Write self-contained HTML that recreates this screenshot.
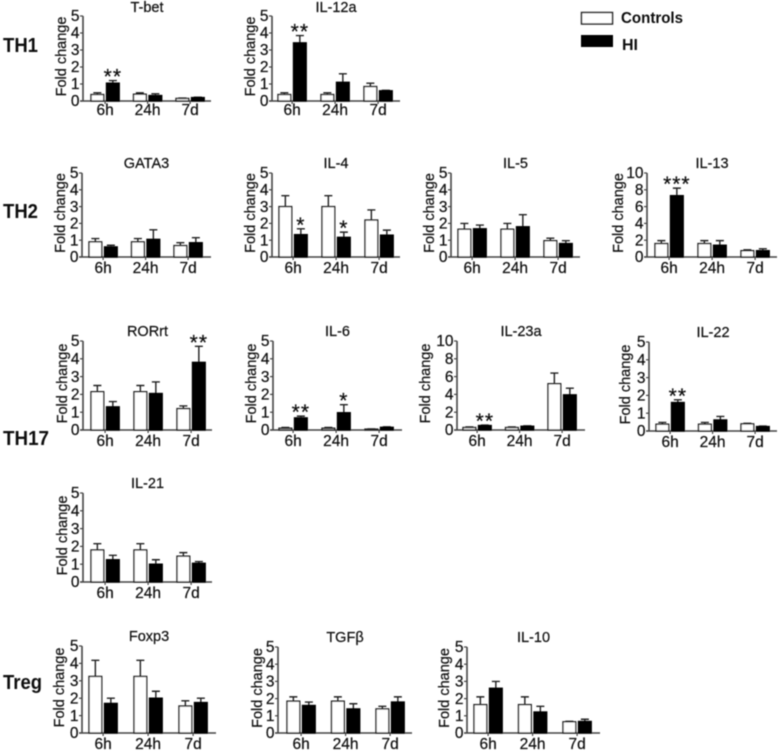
<!DOCTYPE html>
<html lang="en">
<head>
<meta charset="utf-8">
<title>Fold change of T-helper markers</title>
<style>
html,body{margin:0;padding:0;background:#fff}
svg{display:block}
text{font-family:"Liberation Sans",sans-serif;fill:#111;stroke:#111;stroke-width:.22}
.lbl{font-weight:700;fill:#111;stroke:none}
</style>
</head>
<body>
<svg id="chart" width="778" height="751" viewBox="0 0 778 751" xmlns="http://www.w3.org/2000/svg">
<defs><filter id="soft" x="-2%" y="-2%" width="104%" height="104%"><feGaussianBlur stdDeviation="0.4"/></filter></defs>
<rect width="778" height="751" fill="#fff"/>
<g id="root" filter="url(#soft)">
  <text class="lbl" x="3" y="52" font-size="20" textLength="35" lengthAdjust="spacingAndGlyphs">TH1</text>
  <text class="lbl" x="3" y="218" font-size="20" textLength="35" lengthAdjust="spacingAndGlyphs">TH2</text>
  <text class="lbl" x="3" y="445" font-size="20" textLength="46" lengthAdjust="spacingAndGlyphs">TH17</text>
  <text class="lbl" x="3" y="689" font-size="20" textLength="39" lengthAdjust="spacingAndGlyphs">Treg</text>
  <g>
    <rect x="581.5" y="12.5" width="31" height="11.5" fill="#fff" stroke="#222" stroke-width="1.5"/>
    <text class="lbl" x="621" y="23" font-size="16" textLength="62" lengthAdjust="spacingAndGlyphs">Controls</text>
    <rect x="581" y="35" width="32" height="12" fill="#000"/>
    <text class="lbl" x="622" y="50" font-size="16">HI</text>
  </g>
</g>
</svg>
<script>
const categories = ["6h", "24h", "7d"];
const ticks5 = [0, 1, 2, 3, 4, 5];
const ticks10 = [0, 2, 4, 6, 8, 10];

const tbetControls = [0.38, 0.40, 0.15];
const tbetControlsTop = [0.48, 0.48, 0.17];
const tbetHI = [1.05, 0.32, 0.20];
const tbetHITop = [1.20, 0.42, 0.22];

const il12aControls = [0.38, 0.38, 0.85];
const il12aControlsTop = [0.48, 0.48, 1.05];
const il12aHI = [3.42, 1.10, 0.60];
const il12aHITop = [3.85, 1.60, 0.63];

const gata3Controls = [0.90, 0.90, 0.68];
const gata3ControlsTop = [1.10, 1.10, 0.85];
const gata3HI = [0.60, 1.05, 0.85];
const gata3HITop = [0.70, 1.62, 1.15];

const il4Controls = [3.00, 3.00, 2.20];
const il4ControlsTop = [3.65, 3.65, 2.80];
const il4HI = [1.33, 1.17, 1.30];
const il4HITop = [1.68, 1.48, 1.60];

const il5Controls = [1.65, 1.65, 0.97];
const il5ControlsTop = [2.00, 2.00, 1.12];
const il5HI = [1.68, 1.80, 0.80];
const il5HITop = [1.90, 2.52, 0.97];

const il13Controls = [1.60, 1.60, 0.75];
const il13ControlsTop = [1.95, 1.95, 0.85];
const il13HI = [7.30, 1.40, 0.75];
const il13HITop = [8.20, 1.95, 0.98];

const rorrtControls = [2.15, 2.15, 1.20];
const rorrtControlsTop = [2.50, 2.50, 1.35];
const rorrtHI = [1.30, 2.05, 3.80];
const rorrtHITop = [1.60, 2.70, 4.70];

const il6Controls = [0.10, 0.10, 0.05];
const il6ControlsTop = [0.14, 0.14, 0.06];
const il6HI = [0.68, 0.97, 0.15];
const il6HITop = [0.78, 1.42, 0.18];

const il23aControls = [0.28, 0.28, 5.20];
const il23aControlsTop = [0.34, 0.34, 6.40];
const il23aHI = [0.50, 0.42, 3.95];
const il23aHITop = [0.55, 0.47, 4.70];

const il22Controls = [0.38, 0.38, 0.40];
const il22ControlsTop = [0.48, 0.48, 0.43];
const il22HI = [1.60, 0.62, 0.25];
const il22HITop = [1.75, 0.82, 0.28];

const il21Controls = [1.80, 1.80, 1.45];
const il21ControlsTop = [2.15, 2.15, 1.65];
const il21HI = [1.25, 1.00, 1.05];
const il21HITop = [1.50, 1.25, 1.15];

const foxp3Controls = [3.25, 3.25, 1.55];
const foxp3ControlsTop = [4.18, 4.18, 1.85];
const foxp3HI = [1.70, 2.00, 1.75];
const foxp3HITop = [2.00, 2.40, 2.00];

const tgfbControls = [1.85, 1.85, 1.40];
const tgfbControlsTop = [2.10, 2.10, 1.55];
const tgfbHI = [1.60, 1.40, 1.80];
const tgfbHITop = [1.80, 1.70, 2.10];

const il10Controls = [1.65, 1.65, 0.65];
const il10ControlsTop = [2.10, 2.10, 0.68];
const il10HI = [2.60, 1.22, 0.67];
const il10HITop = [3.00, 1.55, 0.80];

const panels = [
  {id:"t-bet",  title:"T-bet",  c:tbetControls,  ct:tbetControlsTop,  h:tbetHI,  ht:tbetHITop,  ticks:ticks5,  stars:["**","",""],  ax:83,  top:16,  bot:101, end:211, first:91,  step:42.5, xdy:14, ytx:17},
  {id:"il-12a", title:"IL-12a", c:il12aControls, ct:il12aControlsTop, h:il12aHI, ht:il12aHITop, ticks:ticks5,  stars:["**","",""],  ax:272, top:16,  bot:101, end:400, first:278, step:43,   xdy:14, ytx:17},
  {id:"gata3",  title:"GATA3",  c:gata3Controls, ct:gata3ControlsTop, h:gata3HI, ht:gata3HITop, ticks:ticks5,  stars:["","",""],    ax:82,  top:173, bot:257, end:211, first:89,  step:42.5, xdy:16, ytx:17},
  {id:"il-4",   title:"IL-4",   c:il4Controls,   ct:il4ControlsTop,   h:il4HI,   ht:il4HITop,   ticks:ticks5,  stars:["*","*",""],  ax:272, top:173, bot:257, end:400, first:279, step:43,   xdy:16, ytx:17},
  {id:"il-5",   title:"IL-5",   c:il5Controls,   ct:il5ControlsTop,   h:il5HI,   ht:il5HITop,   ticks:ticks5,  stars:["","",""],    ax:451, top:173, bot:257, end:580, first:458, step:43,   xdy:16, ytx:17},
  {id:"il-13",  title:"IL-13",  c:il13Controls,  ct:il13ControlsTop,  h:il13HI,  ht:il13HITop,  ticks:ticks10, stars:["***","",""], ax:647, top:173, bot:257, end:777, first:655, step:43,   xdy:16, ytx:24},
  {id:"rorrt",  title:"RORrt",  c:rorrtControls, ct:rorrtControlsTop, h:rorrtHI, ht:rorrtHITop, ticks:ticks5,  stars:["","","**"],  ax:83,  top:341, bot:430, end:212, first:91,  step:43,   xdy:16, ytx:16},
  {id:"il-6",   title:"IL-6",   c:il6Controls,   ct:il6ControlsTop,   h:il6HI,   ht:il6HITop,   ticks:ticks5,  stars:["**","*",""], ax:273, top:341, bot:430, end:402, first:279, step:43,   xdy:16, ytx:17},
  {id:"il-23a", title:"IL-23a", c:il23aControls, ct:il23aControlsTop, h:il23aHI, ht:il23aHITop, ticks:ticks10, stars:["**","",""],  ax:457, top:341, bot:430, end:585, first:463, step:42.5, xdy:16, ytx:27},
  {id:"il-22",  title:"IL-22",  c:il22Controls,  ct:il22ControlsTop,  h:il22HI,  ht:il22HITop,  ticks:ticks5,  stars:["**","",""],  ax:649, top:342, bot:431, end:777, first:656, step:42.5, xdy:16, ytx:19},
  {id:"il-21",  title:"IL-21",  c:il21Controls,  ct:il21ControlsTop,  h:il21HI,  ht:il21HITop,  ticks:ticks5,  stars:["","",""],    ax:83,  top:493, bot:582, end:212, first:91,  step:43,   xdy:16, ytx:16},
  {id:"foxp3",  title:"Foxp3",  c:foxp3Controls, ct:foxp3ControlsTop, h:foxp3HI, ht:foxp3HITop, ticks:ticks5,  stars:["","",""],    ax:82,  top:646, bot:733, end:216, first:89,  step:45,   xdy:16, ytx:18},
  {id:"tgfb",   title:"TGF\u03B2", c:tgfbControls, ct:tgfbControlsTop, h:tgfbHI, ht:tgfbHITop,  ticks:ticks5,  stars:["","",""],    ax:278, top:647, bot:733, end:412, first:287, step:44.5, xdy:16, ytx:16},
  {id:"il-10",  title:"IL-10",  c:il10Controls,  ct:il10ControlsTop,  h:il10HI,  ht:il10HITop,  ticks:ticks5,  stars:["","",""],    ax:467, top:647, bot:733, end:600, first:474, step:44.5, xdy:16, ytx:18}
];

const SVGNS = "http://www.w3.org/2000/svg";
const BAR_W = 12.7;
const BAR_OFFSET = 15.5;
const INK = "#222";
const root = document.getElementById("root");

function make(tag, attrs, parent, txt) {
  const el = document.createElementNS(SVGNS, tag);
  for (const k in attrs) el.setAttribute(k, attrs[k]);
  if (txt !== undefined) el.textContent = txt;
  parent.appendChild(el);
  return el;
}

function drawBar(g, p, y, xLeft, value, topValue, isHI, name) {
  const base = y(0), yv = y(value), yt = y(topValue), cx = xLeft + BAR_W / 2;
  const err = make("path", {d:"M" + cx + " " + yv + "V" + yt + "M" + (cx - 4) + " " + yt + "H" + (cx + 4), fill:"none", stroke:INK, "stroke-width":1.4}, g);
  
  
  const rect = make("rect", {x:xLeft, y:yv, width:BAR_W, height:Math.max(base - yv, 0), fill:isHI ? "#000" : "#fff", stroke:isHI ? "#000" : INK, "stroke-width":1.4}, g);
  
  
}

function drawPanel(p) {
  const g = make("g", {}, root);
  
  

  const maxTick = p.ticks[p.ticks.length - 1];
  const y = v => p.bot - (v / maxTick) * (p.bot - p.top);
  const xGroup = i => p.first + i * p.step;

  const title = make("text", {x:(p.ax + p.end) / 2, y:p.top - (p.top < 20 ? 4 : 5), "font-size":14.5, "text-anchor":"middle"}, g, p.title);
  
  

  const ya = make("text", {transform:"translate(" + (p.ax - p.ytx) + " " + ((p.top + p.bot) / 2 - 2) + ") rotate(-90)", "font-size":14.5, "text-anchor":"middle"}, g, "Fold change");
  
  

  const yLine = make("path", {d:"M" + p.ax + " " + p.top + "V" + p.bot, stroke:"#444", "stroke-width":1.6, fill:"none"}, g);
  
  

  const xLine = make("path", {d:"M" + (p.ax - 3) + " " + p.bot + "H" + p.end, stroke:"#444", "stroke-width":1.6, fill:"none"}, g);
  
  

  p.ticks.forEach(t => {
    const tick = make("path", {d:"M" + (p.ax - 3) + " " + y(t) + "H" + p.ax, stroke:"#444", "stroke-width":1.2}, g);
    
    
    const lab = make("text", {x:p.ax - 3.5, y:y(t) + 5.2, "font-size":15.5, "text-anchor":"end"}, g, String(t));
    
    
  });

  categories.forEach((cat, i) => {
    const gx = xGroup(i);
    drawBar(g, p, y, gx, p.c[i], p.ct[i], false, 'controls-' + cat);
    drawBar(g, p, y, gx + BAR_OFFSET, p.h[i], p.ht[i], true, 'hi-' + cat);

    const mid = gx + (BAR_OFFSET + BAR_W) / 2;
    const tk = make("path", {d:"M" + mid + " " + p.bot + "v3", stroke:"#444", "stroke-width":1.2}, g);
    
    
    const lab = make("text", {x:mid, y:p.bot + p.xdy, "font-size":15.5, "text-anchor":"middle"}, g, cat);
    
    

    if (p.stars[i]) {
      const s = make("text", {x:gx + BAR_OFFSET + BAR_W / 2, y:y(p.ht[i]) + 3, "font-size":21, "text-anchor":"middle", "letter-spacing":"1"}, g, p.stars[i]);
      
      
    }
  });
}

panels.forEach(drawPanel);
</script>
</body>
</html>
